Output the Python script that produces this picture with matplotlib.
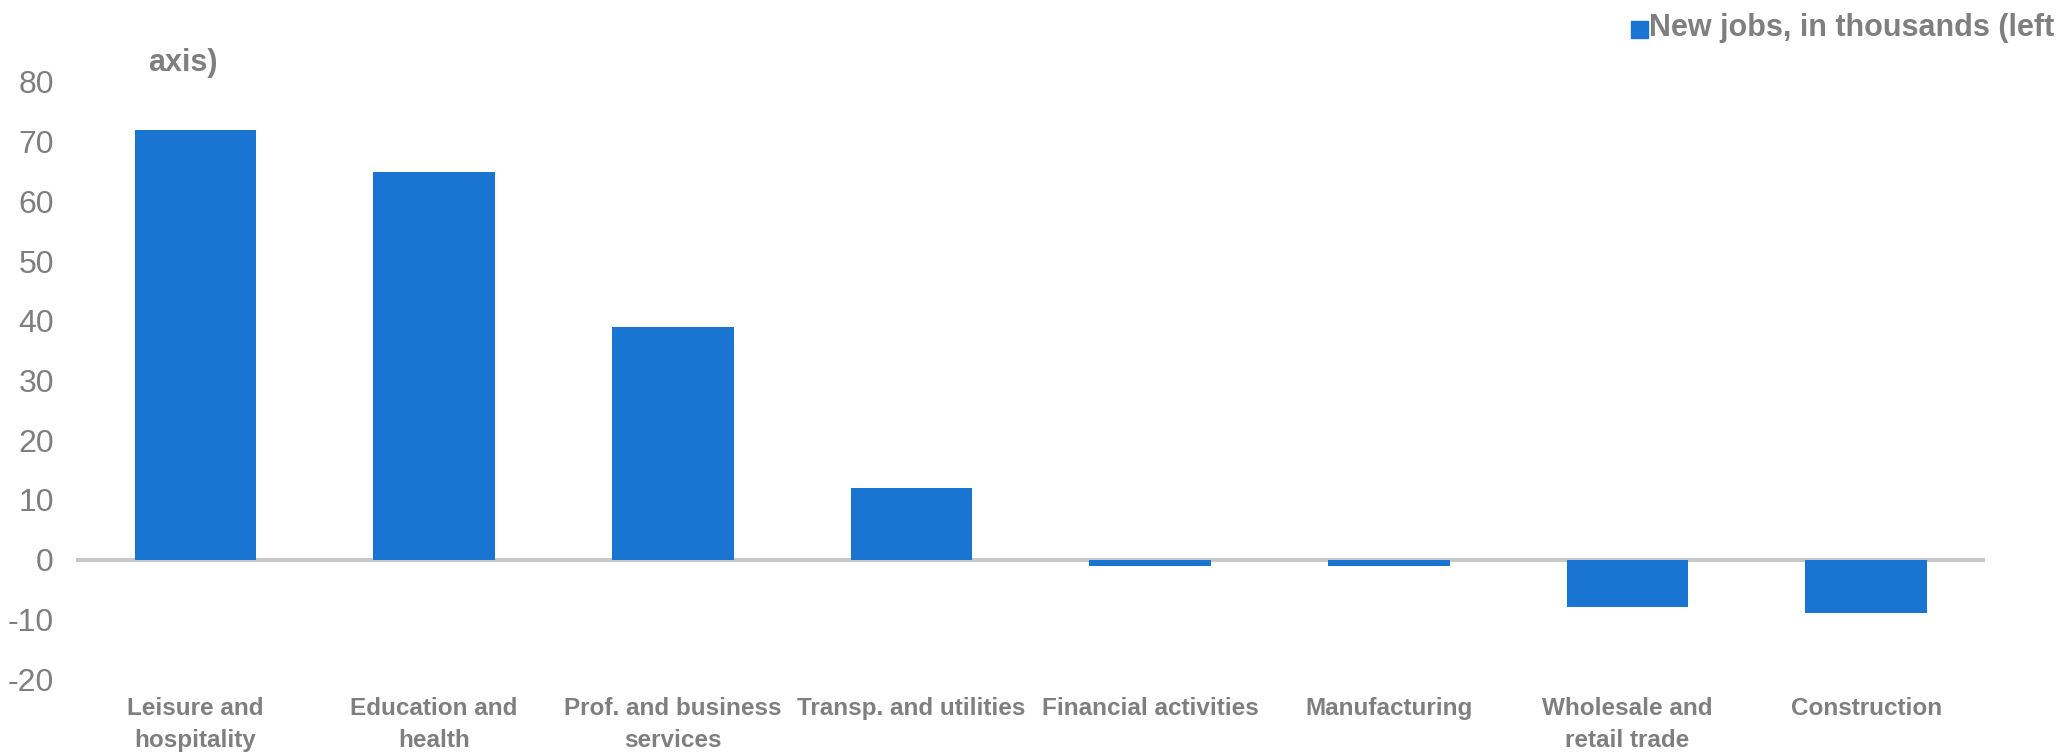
import matplotlib
matplotlib.use("Agg")
import matplotlib.pyplot as plt
from matplotlib.patches import Rectangle
import numpy as np

# New jobs by sector, in thousands
sectors = ["Leisure and\nhospitality", "Education and\nhealth", "Prof. and business\nservices",
           "Transp. and utilities", "Financial activities", "Manufacturing",
           "Wholesale and\nretail trade", "Construction"]
new_jobs = [72, 65, 39, 12, -1, -1, -8, -9]
y_ticks = [-20, -10, 0, 10, 20, 30, 40, 50, 60, 70, 80]

bar_color = "#1a74d2"
text_color = "#7f7f7f"
plt.rcParams["font.family"] = ["Liberation Sans", "DejaVu Sans"]

fig = plt.figure(figsize=(20.66, 7.52), dpi=100)
ax = fig.add_axes([0.0368, 0.097, 0.9242, 0.794])

x = np.arange(len(sectors))
ax.bar(x, new_jobs, width=0.51, color=bar_color, zorder=2)
ax.axhline(0, color="#c8c8c8", linewidth=3, zorder=1)

ax.set_xlim(-0.5, len(sectors) - 0.5)
ax.set_ylim(-20, 80)
ax.set_yticks(y_ticks)
ax.set_yticklabels([str(t) for t in y_ticks], fontsize=23, color=text_color)
ax.set_xticks(x)
ax.set_xticklabels(sectors, fontsize=17.5, color=text_color, fontweight="bold", linespacing=1.5)
ax.tick_params(axis="y", length=0, pad=16)
ax.tick_params(axis="x", length=0, pad=13)
for s in ax.spines.values():
    s.set_visible(False)

# legend entry, wrapped onto two lines
fig.patches.append(Rectangle((1631 / 2066, 1 - 38 / 752), 17 / 2066, 17 / 752,
                             transform=fig.transFigure, color=bar_color))
fig.text(1649 / 2066, 1 - 28 / 752, "New jobs, in thousands (left", fontsize=22,
         fontweight="bold", color=text_color, va="center", ha="left")
fig.text(148 / 2066, 1 - 63 / 752, "axis)", fontsize=22, fontweight="bold",
         color=text_color, va="center", ha="left")

fig.savefig("out.png", dpi=100, facecolor="white")
